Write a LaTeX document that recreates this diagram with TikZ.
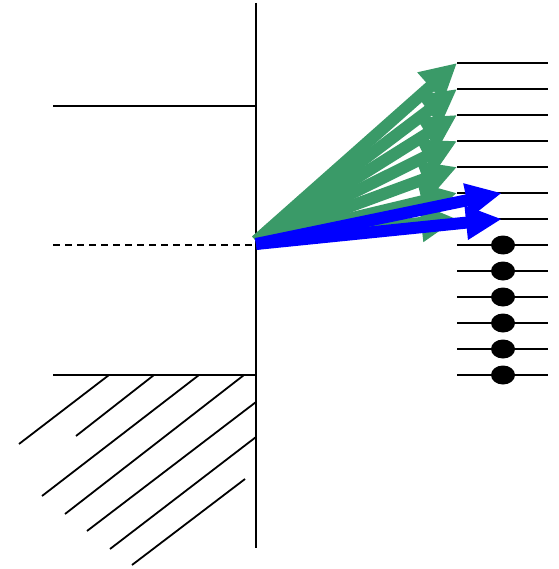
\documentclass[tikz,border=0pt]{standalone}
\usetikzlibrary{arrows.meta}
\definecolor{raygreen}{RGB}{58,154,104}
\definecolor{rayblue}{RGB}{0,0,255}

\begin{document}
\begin{tikzpicture}[x=1pt,y=-1pt,
  wall/.style={line width=2.2pt},
  hatch/.style={line width=1.8pt},
  greenray/.style={raygreen,line width=12pt,-{Triangle[length=36pt,width=36pt]}},
  blueray/.style={rayblue,line width=12pt,-{Triangle[length=36pt,width=32pt]}}
]
  \useasboundingbox (0,0) rectangle (558,569);

  % wall and left levels
  \draw[wall] (256,3) -- (256,548);
  \draw[wall] (53,106) -- (256,106);
  \draw[wall,dash pattern=on 7pt off 5pt] (53,245) -- (256,245);
  \draw[wall] (53,375) -- (256,375);

  % hatching below the lower level
  \draw[hatch] (109,375) -- (19,444);
  \draw[hatch] (154,375) -- (76,436);
  \draw[hatch] (199,375) -- (42,496);
  \draw[hatch] (244,375) -- (65,514);
  \draw[hatch] (256,402) -- (87,531);
  \draw[hatch] (256,437) -- (110,549);
  \draw[hatch] (245,479) -- (132,565);

  % right levels
  \foreach \i in {0,...,12}
    \draw[wall] (457,63+26*\i) -- (548,63+26*\i);
  \foreach \i in {7,...,12}
    \fill (503,63+26*\i) ellipse [x radius=12pt,y radius=9.5pt];

  % rays
  \coordinate (src) at (256,241);
  \foreach \i in {0,...,6}
    \coordinate (g\i) at (457,63+26*\i);
  \foreach \i in {0,...,6}
    \draw[greenray] (src) -- (g\i);
  \coordinate (b1) at (502,193);
  \coordinate (b2) at (502,219);
  \draw[blueray] ([yshift=-3pt]src) -- (b1);
  \draw[blueray] ([yshift=-3pt]src) -- (b2);
\end{tikzpicture}
\end{document}
